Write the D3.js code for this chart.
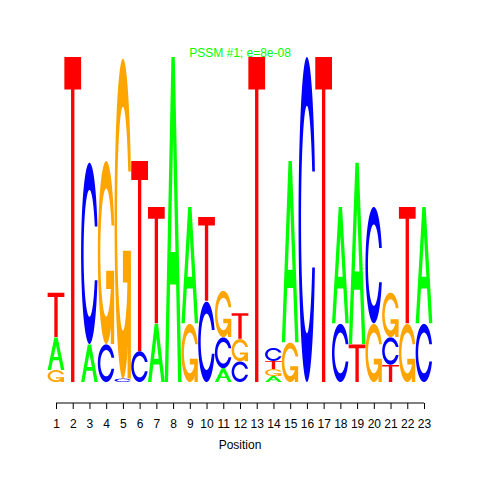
<!DOCTYPE html>
<html>
<head>
<meta charset="utf-8">
<script src="https://cdn.jsdelivr.net/npm/d3@7/dist/d3.min.js"></script>
<style>
  body { margin: 0; background: #fff; }
  text { font-family: "Liberation Sans", Arial, sans-serif; }
</style>
</head>
<body>
<div id="logo"></div>
<script>
// positions along the motif
var positions = d3.range(1, 24);

var hA = [0.19, 0, 0.22, 0, 0, 0, 0.34, 1.90, 0.68, 0, 0.08, 0, 0, 0.035, 1.06, 0, 0, 0.68, 1.06, 0, 0, 0, 0.68];
var hC = [0, 0, 1.06, 0.22, 0.02, 0.18, 0, 0, 0, 0.47, 0.18, 0.12, 0, 0.076, 0, 1.90, 0, 0.34, 0, 0.68, 0.16, 0, 0.34];
var hG = [0.07, 0, 0, 1.07, 1.87, 0, 0, 0, 0.34, 0, 0.27, 0.13, 0, 0.04, 0.23, 0, 0, 0, 0, 0.34, 0.26, 0.34, 0];
var hT = [0.26, 1.90, 0, 0, 0, 1.11, 0.68, 0, 0, 0.49, 0, 0.15, 1.90, 0.047, 0, 0, 1.90, 0, 0.22, 0, 0.10, 0.68, 0];

var title = "PSSM #1; e=8e-08";
var xLabel = "Position";

var colors = { A: "#00ff00", C: "#0000ff", G: "#ffa500", T: "#ff0000" };

var svg = d3.select("#logo")
    .append("svg")
    .attr("width", 480)
    .attr("height", 480);

var x = d3.scaleLinear().domain([1, 23]).range([56, 424]);
var y = d3.scaleLinear().domain([0, 2]).range([382, 40]);
var colW = x(2) - x(1);

// ---- glyph outlines in unit box (y up) ----
function seq(a, b, n) {
    return d3.range(n).map(function (i) { return a + (b - a) * i / (n - 1); });
}

function ringOutline() {
    var a1 = seq(0.3 + Math.PI / 2, Math.PI, 100);
    var a2 = seq(Math.PI, 1.5 * Math.PI, 100);
    var xl = a1.concat(a2).map(function (a) { return 0.5 + 0.5 * Math.sin(a); });
    var yl = a1.concat(a2).map(function (a) { return 0.5 + 0.5 * Math.cos(a); });
    var maxY1 = 0.5 + 0.5 * Math.cos(a1[0]);
    var xs = xl.concat(xl.slice().reverse());
    var ys = yl.concat(yl.slice().reverse().map(function (v) { return 1 - v; }));

    var xi1 = [], yi1 = [];
    a1.forEach(function (a) {
        var yy = 0.5 + 0.35 * Math.cos(a);
        if (yy <= maxY1) { xi1.push(0.5 + 0.35 * Math.sin(a)); yi1.push(yy); }
    });
    yi1[0] = maxY1;
    var xi = xi1.concat(a2.map(function (a) { return 0.5 + 0.35 * Math.sin(a); }));
    var yi = yi1.concat(a2.map(function (a) { return 0.5 + 0.35 * Math.cos(a); }));
    var x1 = xi.concat(xi.slice().reverse());
    var y1 = yi.concat(yi.slice().reverse().map(function (v) { return 1 - v; }));

    xs = xs.concat(x1.slice().reverse());
    ys = ys.concat(y1.slice().reverse());
    return { pts: xs.map(function (v, i) { return [v, ys[i]]; }), r1: d3.max(xl.slice(0, 100)) };
}

var ring = ringOutline();
var glyphs = {
    A: [
        { pts: [[0,0],[0.4,1],[0.6,1],[1,0],[0.8,0],[0.68,0.3],[0.32,0.3],[0.2,0]], fill: null },
        { pts: [[0.36,0.4],[0.5,0.75],[0.64,0.4]], fill: "#ffffff" }
    ],
    C: [ { pts: ring.pts, fill: null } ],
    G: [
        { pts: ring.pts, fill: null },
        { pts: [[ring.r1,0.4],[0.5,0.4],[0.5,0.3],[ring.r1-0.2,0.3],[ring.r1-0.2,0],[ring.r1,0]], fill: null }
    ],
    T: [ { pts: [[0,1],[1,1],[1,0.9],[0.6,0.9],[0.6,0],[0.4,0],[0.4,0.9],[0,0.9]], fill: null } ]
};

// stack letters per column, smallest at the bottom
var stacks = [];
positions.forEach(function (p, j) {
    var col = [
        { letter: "A", h: hA[j] }, { letter: "C", h: hC[j] },
        { letter: "G", h: hG[j] }, { letter: "T", h: hT[j] }
    ].sort(function (a, b) { return a.h - b.h; });
    var ypos = 0;
    col.forEach(function (d) {
        if (d.h > 0) stacks.push({ pos: p, letter: d.letter, y0: ypos, h: d.h });
        ypos += d.h * 1.01;
    });
});

var line = d3.line();
var marks = svg.append("g")
    .selectAll("g")
    .data(stacks)
    .enter()
    .append("g");

marks.each(function (d) {
    var g = d3.select(this);
    var left = x(d.pos) - colW / 2;
    var base = y(d.y0), top = y(d.y0 + d.h), ht = base - top;
    glyphs[d.letter].forEach(function (part) {
        g.append("path")
            .attr("d", line(part.pts.map(function (p) {
                return [left + p[0] * colW, base - p[1] * ht];
            })) + "Z")
            .attr("fill", part.fill || colors[d.letter]);
    });
});

// x axis
var axisY = 403;
var axis = svg.append("g")
    .attr("transform", "translate(0," + axisY + ")")
    .call(d3.axisBottom(x).tickValues(positions).tickSize(6).tickPadding(10).tickSizeOuter(0));
axis.select(".domain").remove();
axis.append("line")
    .attr("x1", x(1)).attr("x2", x(23))
    .attr("stroke", "#000");
axis.selectAll("text")
    .attr("font-size", 12)
    .attr("font-family", "Liberation Sans, Arial, sans-serif")
    .attr("fill", "#000");
axis.selectAll(".tick line").attr("stroke", "#000");

svg.append("text")
    .attr("x", 240)
    .attr("y", 449)
    .attr("text-anchor", "middle")
    .attr("font-size", 12)
    .text(xLabel);

svg.append("text")
    .attr("x", 240)
    .attr("y", 57)
    .attr("text-anchor", "middle")
    .attr("font-size", 12)
    .attr("fill", "#00ff00")
    .text(title);
</script>
</body>
</html>
